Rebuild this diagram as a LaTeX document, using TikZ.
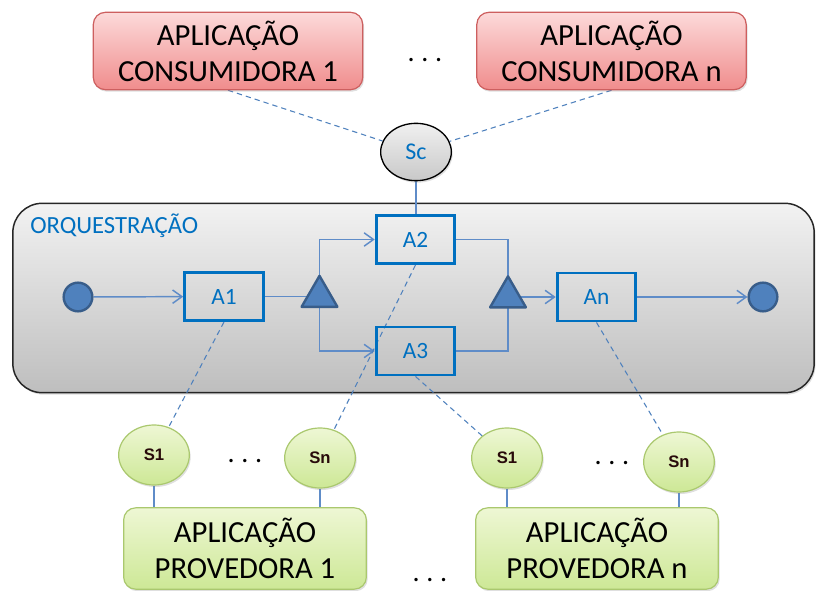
\documentclass[tikz,border=0pt]{standalone}
\usepackage{fontspec}
\setmainfont{Carlito}
\newfontfamily\servfont{Liberation Sans}
\usetikzlibrary{arrows.meta,shapes.geometric,shadows}

\definecolor{contop}{RGB}{252,218,218}
\definecolor{conbot}{RGB}{240,140,140}
\definecolor{conborder}{RGB}{205,95,95}
\definecolor{provtop}{RGB}{238,247,212}
\definecolor{provbot}{RGB}{205,232,150}
\definecolor{provborder}{RGB}{170,200,110}
\definecolor{servtext}{RGB}{40,10,10}
\definecolor{sctop}{RGB}{240,240,240}
\definecolor{scbot}{RGB}{200,200,200}
\definecolor{orqtop}{RGB}{242,242,242}
\definecolor{orqbot}{RGB}{190,190,190}
\definecolor{textblue}{RGB}{0,112,192}
\definecolor{nodeblue}{RGB}{79,129,189}
\definecolor{nodeborder}{RGB}{56,93,138}
\definecolor{flowblue}{RGB}{95,140,200}
\definecolor{dashblue}{RGB}{79,129,189}

\pgfdeclarelayer{bg}
\pgfdeclarelayer{conn}
\pgfsetlayers{bg,conn,main}

\begin{document}
\begin{tikzpicture}[x=0.75pt,y=-0.75pt,
  softshadow/.style={drop shadow={shadow xshift=1pt,shadow yshift=-1.5pt,opacity=0.25}},
  appbox/.style={rounded corners=9pt,align=center,inner sep=0pt,text=black,
    font=\fontsize{23}{27}\selectfont,softshadow},
  consumer/.style={appbox,draw=conborder,line width=0.9pt,top color=contop,bottom color=conbot,
    minimum width=202pt,minimum height=58pt},
  provider/.style={appbox,draw=provborder,line width=0.9pt,top color=provtop,bottom color=provbot,
    minimum width=182pt,minimum height=61pt},
  service/.style={ellipse,draw=provborder,line width=0.9pt,top color=provtop,bottom color=provbot,
    minimum width=53pt,minimum height=45pt,inner sep=0pt,text=servtext,
    font=\servfont\bfseries\fontsize{12.5}{14}\selectfont,softshadow},
  scnode/.style={ellipse,draw=black,line width=1pt,top color=sctop,bottom color=scbot,
    minimum width=53pt,minimum height=43pt,inner sep=0pt,text=textblue,
    font=\fontsize{18}{20}\selectfont,softshadow},
  orch/.style={rounded corners=22pt,draw=black!85,line width=1.1pt,top color=orqtop,bottom color=orqbot,
    minimum width=601pt,minimum height=142pt,inner sep=0pt,softshadow},
  activity/.style={draw=textblue,line width=2.2pt,minimum width=59pt,minimum height=36pt,
    inner sep=0pt,text=textblue,font=\fontsize{17.5}{20}\selectfont},
  endpoint/.style={circle,fill=nodeblue,draw=nodeborder,line width=1.8pt,minimum size=21.5pt,inner sep=0pt},
  gate/.style={regular polygon,regular polygon sides=3,fill=nodeblue,draw=nodeborder,line width=1.8pt,
    line join=round,minimum size=31pt,inner sep=0pt},
  dots/.style={font=\fontsize{21}{26}\selectfont,text=black},
  flow/.style={draw=flowblue,line width=1.1pt},
  flowarrow/.style={flow,-{Straight Barb[length=7pt,width=10pt,line width=1.1pt]}},
  dashlink/.style={draw=dashblue,line width=0.8pt,dash pattern=on 4pt off 3pt}]

\useasboundingbox (0,0) rectangle (817,591);

% consumer applications and their shared service
\node[consumer] (c1) at (228,51) {APLICAÇÃO\\CONSUMIDORA 1};
\node[consumer] (cn) at (611.5,51) {APLICAÇÃO\\CONSUMIDORA n};
\node[dots] (cdots) at (425,60) {.\hspace{5pt}.\hspace{5pt}.};
\node[scnode] (sc) at (416,152) {Sc};

% orchestration container
\begin{pgfonlayer}{bg}
\node[orch] (orq) at (413.5,298) {};
\end{pgfonlayer}
\node[anchor=base west,text=textblue,font=\fontsize{18.5}{21}\selectfont,inner sep=0pt] (orqlbl) at (30,234) {ORQUESTRAÇÃO};

% process flow
\node[endpoint] (start) at (78,297) {};
\node[activity] (a1) at (224,296.5) {A1};
\node[gate] (g1) at (319.5,296.5) {};
\node[activity] (a2) at (415.5,239.5) {A2};
\node[activity] (a3) at (415.5,351) {A3};
\node[gate] (g2) at (508,297) {};
\node[activity] (an) at (596.5,297) {An};
\node[endpoint] (stop) at (763,297) {};

% provider services
\node[service] (s1a) at (154,455) {S1};
\node[service] (sna) at (320,458) {Sn};
\node[service] (s1b) at (507,458) {S1};
\node[service] (snb) at (679,462) {Sn};
\node[dots] (sdots1) at (245,461) {.\hspace{5pt}.\hspace{5pt}.};
\node[dots] (sdots2) at (612,463) {.\hspace{5pt}.\hspace{5pt}.};

% provider applications
\node[provider] (p1) at (245,548.5) {APLICAÇÃO\\PROVEDORA 1};
\node[provider] (pn) at (597,548.5) {APLICAÇÃO\\PROVEDORA n};
\node[dots] (pdots) at (430,580) {.\hspace{5pt}.\hspace{5pt}.};

\begin{pgfonlayer}{conn}
% consumers to Sc
\draw[dashlink] (c1.south) -- (sc);
\draw[dashlink] (cn.south) -- (sc);
\draw[flow] (sc.south) -- (sc.south |- a2.north);
% flow
\draw[flowarrow] (start) -- (a1);
\draw[flow] (a1.east) -- (g1.center);
\draw[flowarrow] (g1.center) |- (a2.west);
\draw[flowarrow] (g1.center) |- (a3.west);
\draw[flow] (a2.east) -| (g2.center);
\draw[flow] (a3.east) -| (g2.center);
\draw[flowarrow] (g2.center) -- (an.west);
\draw[flowarrow] (an.east) -- (stop);
% activities to services
\draw[dashlink] (a1.south) -- (s1a);
\draw[dashlink] (a2.south) -- (sna);
\draw[dashlink] (a3.south) -- (s1b);
\draw[dashlink] (an.south) -- (snb);
% services to providers
\draw[flow,line width=0.8pt] (s1a.south) -- (s1a.south |- p1.north);
\draw[flow,line width=0.8pt] (sna.south) -- (sna.south |- p1.north);
\draw[flow,line width=0.8pt] (s1b.south) -- (s1b.south |- pn.north);
\draw[flow,line width=0.8pt] (snb.south) -- (snb.south |- pn.north);
\end{pgfonlayer}
\end{tikzpicture}
\end{document}
